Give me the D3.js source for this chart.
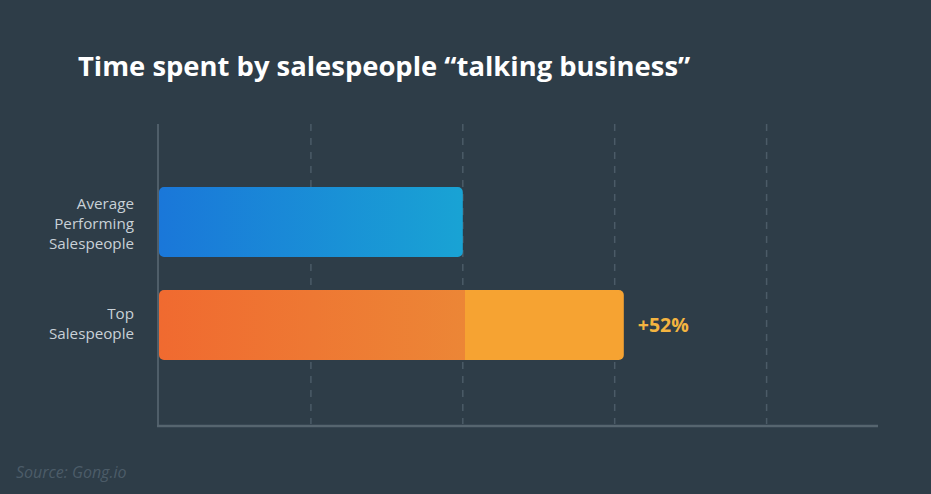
<!DOCTYPE html>
<html>
<head>
<meta charset="utf-8">
<script src="https://cdn.jsdelivr.net/npm/d3@7"></script>
<style>
  html, body { margin: 0; padding: 0; background: #2e3d48; }
  svg { display: block; }
</style>
</head>
<body>
<svg id="chart" width="931" height="494"></svg>
<script>
// ---- data ----
const title = "Time spent by salespeople \u201ctalking business\u201d";
const categories = [["Average", "Performing", "Salespeople"], ["Top", "Salespeople"]];
const values = [100, 153];          // relative time spent (average = 100)
const gridTicks = [50, 100, 150, 200];
const upliftLabel = "+52%";
const source = "Source: Gong.io";

const W = 931, H = 494;
const svg = d3.select("#chart");
svg.append("rect").attr("width", W).attr("height", H).attr("fill", "#2e3d48");

const defs = svg.append("defs");
function grad(id, stops) {
  const g = defs.append("linearGradient").attr("id", id)
    .attr("x1", "0%").attr("x2", "100%").attr("y1", "0%").attr("y2", "0%");
  stops.forEach(([o, c]) => g.append("stop").attr("offset", o).attr("stop-color", c));
}
grad("gBlue", [["0%", "#1a77d9"], ["100%", "#19a3d4"]]);
grad("gOrange", [["0%", "#f06a30"], ["100%", "#ec8636"]]);

const x = d3.scaleLinear().domain([0, 237]).range([159, 879]);
const y = d3.scaleBand().domain(d3.range(values.length)).range([187, 360]).paddingInner(0.32).paddingOuter(0);

// title
svg.append("text").attr("x", 78).attr("y", 76)
  .attr("font-family", "'Open Sans', sans-serif").attr("font-weight", 700)
  .attr("font-size", 27.4).attr("fill", "#ffffff").text(title);

// gridlines
svg.append("g").selectAll("line").data(gridTicks).join("line")
  .attr("x1", d => x(d)).attr("x2", d => x(d))
  .attr("y1", 124).attr("y2", 424)
  .attr("stroke", "#4b5b67").attr("stroke-width", 1.5)
  .attr("stroke-dasharray", "7,7");

// axes lines
svg.append("line").attr("x1", 158).attr("x2", 158).attr("y1", 124).attr("y2", 427)
  .attr("stroke", "#4f5e69").attr("stroke-width", 2);
svg.append("line").attr("x1", 157).attr("x2", 878).attr("y1", 426).attr("y2", 426)
  .attr("stroke", "#56656f").attr("stroke-width", 2.5);

function roundedPath(x0, x1, y0, h, rl, rr) {
  const p = d3.path();
  p.moveTo(x0 + rl, y0);
  p.lineTo(x1 - rr, y0);
  if (rr) p.arcTo(x1, y0, x1, y0 + rr, rr);
  p.lineTo(x1, y0 + h - rr);
  if (rr) p.arcTo(x1, y0 + h, x1 - rr, y0 + h, rr);
  p.lineTo(x0 + rl, y0 + h);
  if (rl) p.arcTo(x0, y0 + h, x0, y0 + h - rl, rl);
  p.lineTo(x0, y0 + rl);
  if (rl) p.arcTo(x0, y0, x0 + rl, y0, rl);
  p.closePath();
  return p.toString();
}

const r = 5;
const bh = y.bandwidth();
const split = Math.round(x(values[0])) + 2;
// average bar
svg.append("path")
  .attr("d", roundedPath(x(0), x(values[0]), y(0), bh, r, r))
  .attr("fill", "url(#gBlue)");
// top bar: base portion + uplift portion
svg.append("path")
  .attr("d", roundedPath(x(0), split + 0.5, y(1), bh, r, 0))
  .attr("fill", "url(#gOrange)");
svg.append("path")
  .attr("d", roundedPath(split, x(values[1]), y(1), bh, 0, r))
  .attr("fill", "#f6a332");

// uplift label
svg.append("text").attr("x", x(values[1]) + 14).attr("y", y(1) + bh / 2 + 7)
  .attr("font-family", "'Open Sans', sans-serif").attr("font-weight", 700)
  .attr("font-size", 19.5).attr("fill", "#f4b440").text(upliftLabel);

// category labels
const lh = 20;
categories.forEach((lines, i) => {
  const cy = y(i) + bh / 2;
  const t = svg.append("text").attr("text-anchor", "end")
    .attr("font-family", "'Open Sans', sans-serif").attr("font-size", 15.2)
    .attr("fill", "#c9d1d7");
  lines.forEach((ln, j) => {
    t.append("tspan").attr("x", 134)
      .attr("y", cy + (j - (lines.length - 1) / 2) * lh + (lines.length > 2 ? 6.5 : 4.5))
      .text(ln);
  });
});

// source
svg.append("text").attr("x", 16).attr("y", 478)
  .attr("font-family", "'Open Sans', sans-serif").attr("font-style", "italic")
  .attr("font-size", 16).attr("fill", "#4c5c68").text(source);
</script>
</body>
</html>
